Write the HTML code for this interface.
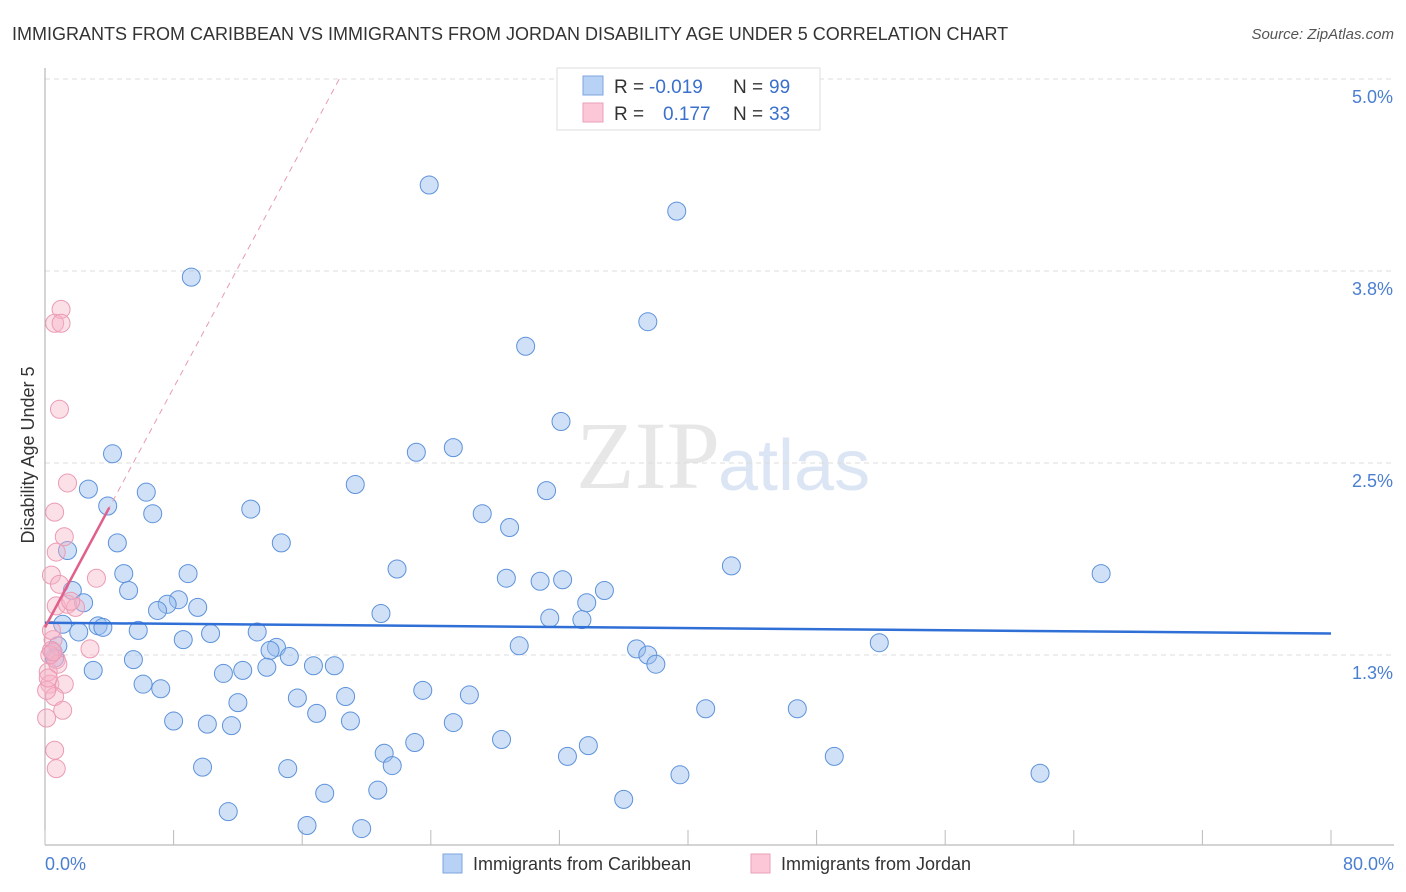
<!DOCTYPE html>
<html><head><meta charset="utf-8"><style>
body{margin:0;background:#fff;font-family:"Liberation Sans",sans-serif;}
#wrap{position:relative;width:1406px;height:892px;overflow:hidden}
</style></head><body><div id="wrap">
<svg id="svg" width="1406" height="892" xmlns="http://www.w3.org/2000/svg">
<text x="12" y="40" font-size="18" fill="#333">IMMIGRANTS FROM CARIBBEAN VS IMMIGRANTS FROM JORDAN DISABILITY AGE UNDER 5 CORRELATION CHART</text>
<text x="1394" y="39" font-size="15" fill="#555" font-style="italic" text-anchor="end">Source: ZipAtlas.com</text>
<text x="720" y="488" font-size="96" fill="#d8d8d8" text-anchor="end" font-family="Liberation Serif" opacity="0.6">ZIP</text>
<text x="718" y="490" font-size="72" fill="#b8cdea" opacity="0.5">atlas</text>
<text transform="translate(34,455) rotate(-90)" font-size="18" fill="#333" text-anchor="middle">Disability Age Under 5</text>
<g id="grid"></g><g id="pts"></g><g id="lines"></g>
<text x="45" y="870" font-size="18" fill="#4a7fd0">0.0%</text>
<text x="1394" y="870" font-size="18" fill="#4a7fd0" text-anchor="end">80.0%</text>
<g>
<rect x="443" y="854" width="19" height="19" fill="#b8d2f5" stroke="#7ea6e0"/>
<text x="473" y="870" font-size="18" fill="#333">Immigrants from Caribbean</text>
<rect x="751" y="854" width="19" height="19" fill="#fcc8d8" stroke="#eaa0b8"/>
<text x="781" y="870" font-size="18" fill="#333">Immigrants from Jordan</text>
</g>
<g>
<rect x="557" y="68" width="263" height="62" fill="#fff" stroke="#ddd"/>
<rect x="583" y="76" width="20" height="19" fill="#b8d2f5" stroke="#7ea6e0"/>
<rect x="583" y="103" width="20" height="19" fill="#fcc8d8" stroke="#eaa0b8"/>
<text font-size="19" fill="#333"><tspan x="614" y="93">R = </tspan><tspan x="649" fill="#3a70cc">-0.019</tspan><tspan x="733">N = </tspan><tspan x="769" fill="#3a70cc">99</tspan></text>
<text font-size="19" fill="#333"><tspan x="614" y="120">R = </tspan><tspan x="663" fill="#3a70cc">0.177</tspan><tspan x="733">N = </tspan><tspan x="769" fill="#3a70cc">33</tspan></text>
</g>
</svg></div>
<script>
const yTicks=[5.0,3.75,2.5,1.25];
const yTickLabels=["5.0%","3.8%","2.5%","1.3%"];
const xTicks=[0,8,16,24,32,40,48,56,64,72,80];
const blueX=[23.9,39.3,9.1,37.5,29.9,32.1,23.1,25.4,4.2,19.3,2.7,6.3,31.2,3.9,12.8,6.7,27.2,28.9,14.7,4.5,1.4,42.7,21.9,65.7,4.9,8.9,28.7,30.8,32.2,5.2,34.8,1.7,8.3,7.6,2.4,33.7,7.0,9.5,20.9,31.4,33.4,1.1,3.3,3.6,5.8,2.1,10.3,13.2,8.6,29.5,51.9,14.4,14.0,36.8,37.5,0.8,0.6,15.2,38.0,5.5,16.7,18.0,13.8,12.3,11.1,3.0,6.1,7.2,23.5,15.7,18.7,26.4,12.0,41.1,46.8,16.9,8.0,19.0,25.4,10.1,11.6,28.4,23.0,33.8,21.1,32.5,49.1,21.6,9.8,15.1,39.5,61.9,20.7,17.4,36.0,11.4,16.3,19.7,0.5];
const blueY=[4.31,4.14,3.71,3.42,3.26,2.77,2.57,2.60,2.56,2.36,2.33,2.31,2.32,2.22,2.20,2.17,2.17,2.08,1.98,1.98,1.93,1.83,1.81,1.78,1.78,1.78,1.75,1.73,1.74,1.67,1.67,1.67,1.61,1.58,1.59,1.59,1.54,1.56,1.52,1.49,1.48,1.45,1.44,1.43,1.41,1.40,1.39,1.40,1.35,1.31,1.33,1.30,1.28,1.29,1.25,1.31,1.23,1.24,1.19,1.22,1.18,1.18,1.17,1.15,1.13,1.15,1.06,1.03,1.02,0.97,0.98,0.99,0.94,0.90,0.90,0.87,0.82,0.82,0.81,0.80,0.79,0.70,0.68,0.66,0.61,0.59,0.59,0.53,0.52,0.51,0.47,0.48,0.37,0.35,0.31,0.23,0.14,0.12,1.27];
const pinkX=[1.0,0.6,1.0,0.9,1.4,0.6,1.2,0.7,0.4,0.9,3.2,0.7,1.4,1.9,2.8,0.5,0.4,0.7,0.2,0.3,1.2,0.6,1.1,0.1,0.6,0.7,0.1,0.4,0.8,0.3,1.6,0.5,0.2];
const pinkY=[3.50,3.41,3.41,2.85,2.37,2.18,2.02,1.92,1.77,1.71,1.75,1.57,1.58,1.56,1.29,1.35,1.28,1.22,1.14,1.06,1.06,0.98,0.89,0.84,0.63,0.51,1.02,1.41,1.19,1.25,1.60,1.27,1.10];
const blueTrend=[1.46,1.39];
const pinkTrend=[1.43,0.195];
const X=v=>45+v/80*1286, Y=v=>847-v*153.6;
const NS="http://www.w3.org/2000/svg";
function mk(tag,attrs,parent){const e=document.createElementNS(NS,tag);for(const k in attrs)e.setAttribute(k,attrs[k]);parent.appendChild(e);return e;}
const g=document.getElementById('grid'),p=document.getElementById('pts'),l=document.getElementById('lines');
yTicks.forEach((t,i)=>{
 const ln=mk('line',{x1:45,x2:1394,y1:Y(t),y2:Y(t),stroke:'#ddd','stroke-dasharray':'5,4'},g);
 
 
 const tx=mk('text',{x:1393,y:Y(t)+24,'font-size':18,fill:'#4a7fd0','text-anchor':'end'},g);
 tx.textContent=yTickLabels[i];
 
 
});
const ax=mk('line',{x1:45,x2:45,y1:68,y2:845,stroke:'#aaa'},g);


const bx=mk('line',{x1:45,x2:1394,y1:845,y2:845,stroke:'#aaa'},g);


xTicks.forEach(t=>{const e=mk('line',{x1:X(t),x2:X(t),y1:830,y2:845,stroke:'#bbb'},g);
 
 });
blueX.forEach((v,i)=>{const c=mk('circle',{cx:X(v),cy:Y(blueY[i]),r:9,fill:'rgba(150,188,238,0.45)',stroke:'#5d92db','stroke-width':1},p);
 
 });
pinkX.forEach((v,i)=>{const c=mk('circle',{cx:X(v),cy:Y(pinkY[i]),r:9,fill:'rgba(248,178,198,0.4)',stroke:'#eb9bb4','stroke-width':1},p);
 
 });
const bt=mk('line',{x1:X(0),x2:X(80),y1:Y(blueTrend[0]),y2:Y(blueTrend[1]),stroke:'#2f6fd6','stroke-width':2.5},l);


const xe=(5-pinkTrend[0])/pinkTrend[1];
const pd=mk('line',{x1:X(0),x2:X(xe),y1:Y(pinkTrend[0]),y2:Y(5),stroke:'#e89ab0','stroke-width':1,'stroke-dasharray':'6,5'},l);


const pt=mk('line',{x1:X(0),x2:X(4),y1:Y(pinkTrend[0]),y2:Y(pinkTrend[0]+4*pinkTrend[1]),stroke:'#e0608a','stroke-width':2.5},l);


</script></body></html>
